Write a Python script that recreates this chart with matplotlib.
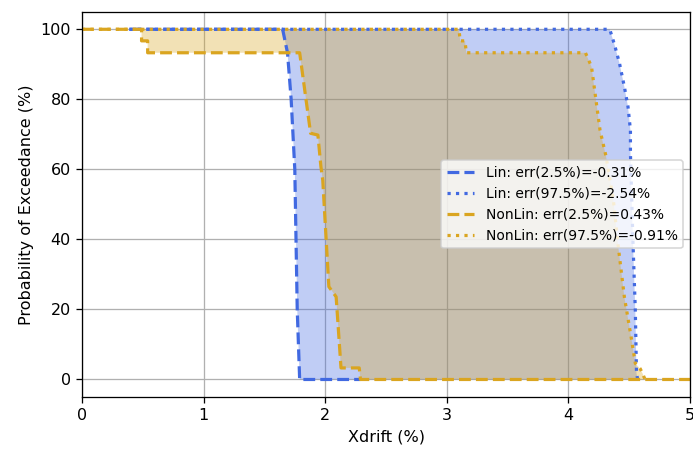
import numpy as np
import matplotlib
matplotlib.use('Agg')
import matplotlib.pyplot as plt

# exceedance curves (x = drift %, y = prob %)
lin_lo_x = [0.39, 1.65, 1.69, 1.72, 1.75, 1.76, 1.77, 1.79, 2.29]
lin_lo_y = [100, 100, 93.3, 80, 60, 40, 20, 0, 0]

lin_hi_x = [0.39, 4.34, 4.38, 4.42, 4.46, 4.49, 4.51, 4.51, 4.53, 4.55, 4.56, 4.57]
lin_hi_y = [100, 100, 95.5, 90.3, 83.6, 77.9, 71.2, 64.6, 40, 20, 1.7, 0]

nl_lo_x = [0, 0.49, 0.49, 0.54, 0.54, 1.79, 1.88, 1.94, 1.965, 1.98, 2.03,
           2.09, 2.13, 2.28, 2.29, 5.3]
nl_lo_y = [100, 100, 96.7, 96.7, 93.3, 93.3, 70.3, 69.8, 60.7, 56.9, 26.5,
           23.6, 3.3, 3.3, 0, 0]

nl_hi_x = [0, 3.10, 3.11, 3.15, 3.16, 4.14, 4.19, 4.23, 4.26, 4.31, 4.37,
           4.41, 4.46, 4.52, 4.55, 4.59, 4.61, 4.63]
nl_hi_y = [100, 100, 96.7, 96.7, 93.3, 93.3, 89.3, 78.9, 71.2, 63.6, 51.2,
           37.9, 23.6, 11.2, 4.6, 3.1, 1.7, 0]

labels = ['Lin: err(2.5%)=-0.31%', 'Lin: err(97.5%)=-2.54%',
          'NonLin: err(2.5%)=0.43%', 'NonLin: err(97.5%)=-0.91%']

c_lin = 'royalblue'
c_nl = 'goldenrod'

dpi = 115
fig = plt.figure(figsize=(693 / dpi, 450 / dpi), dpi=dpi)
ax = fig.add_axes([0.1183, 0.1178, 0.8774, 0.856])

# band between 2.5% and 97.5% curves
ax.fill(np.concatenate([lin_lo_x, lin_hi_x[::-1]]),
        np.concatenate([lin_lo_y, lin_hi_y[::-1]]),
        color=c_lin, alpha=0.33, lw=0)
ax.plot(lin_lo_x, lin_lo_y, '--', color=c_lin, lw=2, label=labels[0])
ax.plot(lin_hi_x, lin_hi_y, ':', color=c_lin, lw=2, label=labels[1])

ax.fill(np.concatenate([nl_lo_x, nl_hi_x[::-1]]),
        np.concatenate([nl_lo_y, nl_hi_y[::-1]]),
        color=c_nl, alpha=0.33, lw=0)
ax.plot(nl_lo_x, nl_lo_y, '--', color=c_nl, lw=2, label=labels[2])
ax.plot(nl_hi_x, nl_hi_y, ':', color=c_nl, lw=2, label=labels[3])

ax.set_xlim(0, 5)
ax.set_ylim(-5, 105)
ax.set_xticks([0, 1, 2, 3, 4, 5])
ax.set_yticks([0, 20, 40, 60, 80, 100])
ax.grid(True)
ax.set_axisbelow(True)
ax.set_xlabel('Xdrift (%)')
ax.set_ylabel('Probability of Exceedance (%)')
ax.legend(loc='center right', fontsize=8.7)

fig.savefig('out.png', dpi=dpi)
